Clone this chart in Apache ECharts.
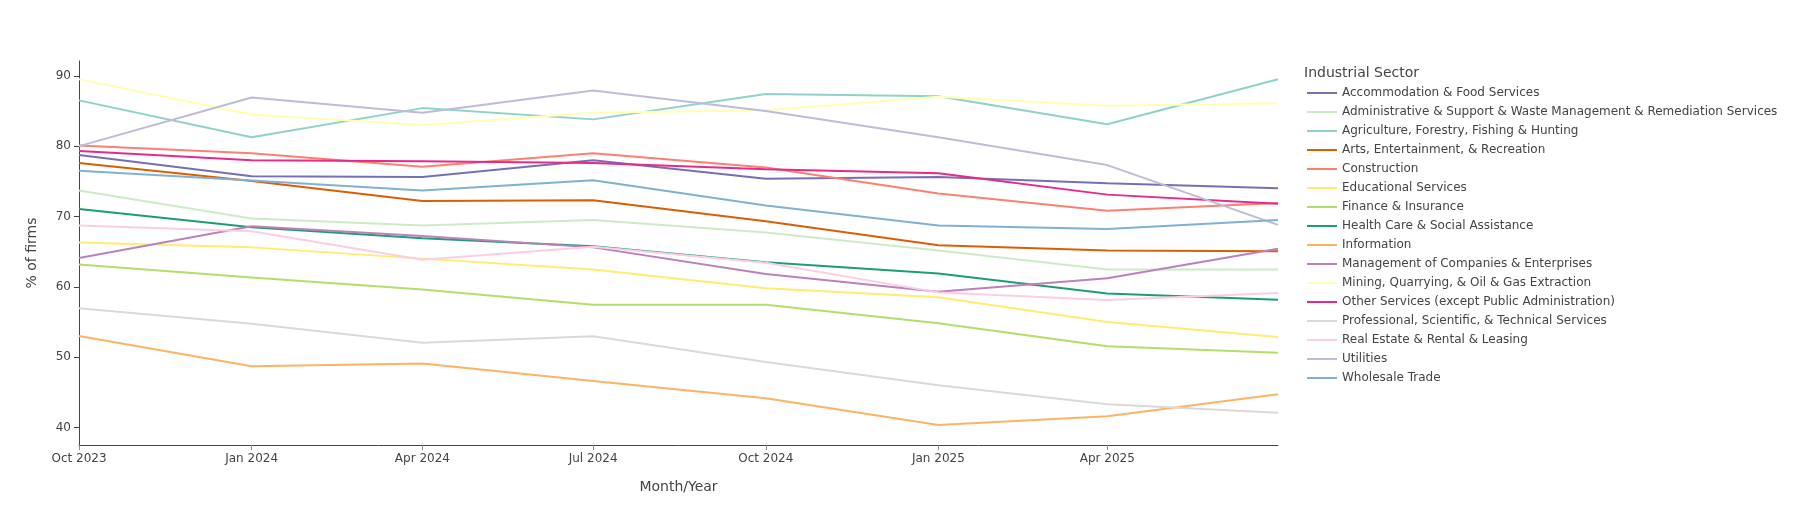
<!DOCTYPE html>
<html>
<head>
<meta charset="utf-8">
<script src="https://cdn.jsdelivr.net/npm/echarts@6/dist/echarts.min.js"></script>
<style>
html,body{margin:0;padding:0;background:#fff;}
#chart{width:1796px;height:525px;}
</style>
</head>
<body>
<div id="chart"></div>
<script>
// ---- data ----
const dates = ['2023-10-01','2024-01-01','2024-04-01','2024-07-01','2024-10-01','2025-01-01','2025-04-01','2025-07-01'];
const tickDates = ['2023-10-01','2024-01-01','2024-04-01','2024-07-01','2024-10-01','2025-01-01','2025-04-01'];
const tickLabels = ['Oct 2023','Jan 2024','Apr 2024','Jul 2024','Oct 2024','Jan 2025','Apr 2025'];
const yTicks = [40, 50, 60, 70, 80, 90];

const sectors = [
  'Accommodation & Food Services',
  'Administrative & Support & Waste Management & Remediation Services',
  'Agriculture, Forestry, Fishing & Hunting',
  'Arts, Entertainment, & Recreation',
  'Construction',
  'Educational Services',
  'Finance & Insurance',
  'Health Care & Social Assistance',
  'Information',
  'Management of Companies & Enterprises',
  'Mining, Quarrying, & Oil & Gas Extraction',
  'Other Services (except Public Administration)',
  'Professional, Scientific, & Technical Services',
  'Real Estate & Rental & Leasing',
  'Utilities',
  'Wholesale Trade'
];

const accommodation = [78.75, 75.7, 75.6, 78.0, 75.35, 75.6, 74.7, 74.0];
const administrative = [73.7, 69.7, 68.7, 69.5, 67.7, 65.15, 62.45, 62.45];
const agriculture = [86.5, 81.25, 85.4, 83.8, 87.4, 87.1, 83.1, 89.5];
const arts = [77.6, 75.05, 72.2, 72.3, 69.3, 65.9, 65.15, 65.05];
const construction = [80.1, 79.0, 77.05, 79.0, 76.95, 73.25, 70.8, 71.9];
const educational = [66.3, 65.6, 64.0, 62.45, 59.8, 58.5, 55.0, 52.85];
const finance = [63.15, 61.3, 59.6, 57.45, 57.45, 54.8, 51.55, 50.6];
const health = [71.05, 68.45, 66.9, 65.75, 63.5, 61.9, 59.05, 58.15];
const information = [53.0, 48.7, 49.1, 46.6, 44.15, 40.35, 41.6, 44.7];
const management = [64.1, 68.6, 67.2, 65.6, 61.8, 59.3, 61.2, 65.4];
const mining = [89.5, 84.5, 83.0, 84.75, 85.1, 87.0, 85.75, 86.1];
const otherServices = [79.3, 78.0, 77.85, 77.6, 76.7, 76.15, 73.1, 71.8];
const professional = [56.95, 54.75, 52.05, 52.95, 49.3, 46.0, 43.3, 42.1];
const realEstate = [68.7, 67.9, 63.85, 65.7, 63.4, 59.2, 58.1, 59.1];
const utilities = [80.0, 86.9, 84.75, 87.9, 85.0, 81.25, 77.3, 68.8];
const wholesale = [76.5, 75.1, 73.7, 75.15, 71.55, 68.7, 68.2, 69.5];

const seriesValues = [accommodation, administrative, agriculture, arts, construction, educational,
  finance, health, information, management, mining, otherServices, professional, realEstate,
  utilities, wholesale];

const colors = ['#7570b3','#ccebc5','#8dd3c7','#d95f02','#fb8072','#ffed6f','#b3de69','#1b9e77',
  '#fdb462','#bc80bd','#ffffb3','#e7298a','#d9d9d9','#fccde5','#bebada','#80b1d3'];

// ---- build ----
const DAY = 86400000;
function dayNum(s){ const p = s.split('-').map(Number); return Math.round(Date.UTC(p[0], p[1]-1, p[2]) / DAY); }
const xs = dates.map(dayNum);
const tickX = tickDates.map(dayNum);
const FONT = '"DejaVu Sans", Verdana, sans-serif';
const TXT = '#444';

const series = sectors.map((name, i) => ({
  name: name,
  type: 'line',
  showSymbol: false,
  symbol: 'none',
  data: xs.map((x, j) => [x, seriesValues[i][j]]),
  lineStyle: { width: 2, color: colors[i] },
  itemStyle: { color: colors[i] },
  emphasis: { disabled: true }
}));

const chart = echarts.init(document.getElementById('chart'), null, { renderer: 'canvas' });
chart.setOption({
  animation: false,
  backgroundColor: '#fff',
  textStyle: { fontFamily: FONT },
  title: {
    text: 'Industrial Sector',
    left: 1299, top: 61,
    textStyle: { fontSize: 14, fontWeight: 'normal', color: TXT, fontFamily: FONT }
  },
  legend: {
    orient: 'vertical',
    left: 1307, top: 86,
    padding: 0,
    itemGap: 5,
    itemWidth: 30, itemHeight: 2,
    icon: 'rect',
    selectedMode: false,
    textStyle: { fontSize: 12, color: TXT, lineHeight: 14, fontFamily: FONT },
    data: sectors
  },
  grid: { left: 79, right: 518, top: 61, bottom: 80, containLabel: false },
  xAxis: {
    type: 'value',
    min: xs[0], max: xs[xs.length - 1],
    name: 'Month/Year',
    nameLocation: 'middle',
    nameGap: 35,
    nameTextStyle: { fontSize: 14, color: TXT, fontFamily: FONT },
    axisLine: { show: true, lineStyle: { color: '#444', width: 1 } },
    axisTick: { show: true, length: 5, lineStyle: { color: '#888' }, customValues: tickX },
    axisLabel: {
      show: true, fontSize: 12, color: TXT, margin: 8, fontFamily: FONT,
      customValues: tickX,
      formatter: function (v) { const k = tickX.indexOf(Math.round(v)); return k >= 0 ? tickLabels[k] : ''; }
    },
    splitLine: { show: false }
  },
  yAxis: {
    type: 'value',
    min: 37.5, max: 92.1,
    name: '% of firms',
    nameLocation: 'middle',
    nameGap: 40,
    nameTextStyle: { fontSize: 14, color: TXT, fontFamily: FONT },
    axisLine: { show: true, lineStyle: { color: '#444', width: 1 } },
    axisTick: { show: true, length: 5, lineStyle: { color: '#444' }, customValues: yTicks },
    axisLabel: { show: true, fontSize: 12, color: TXT, margin: 8, fontFamily: FONT, customValues: yTicks },
    splitLine: { show: false }
  },
  series: series
});
</script>
</body>
</html>
